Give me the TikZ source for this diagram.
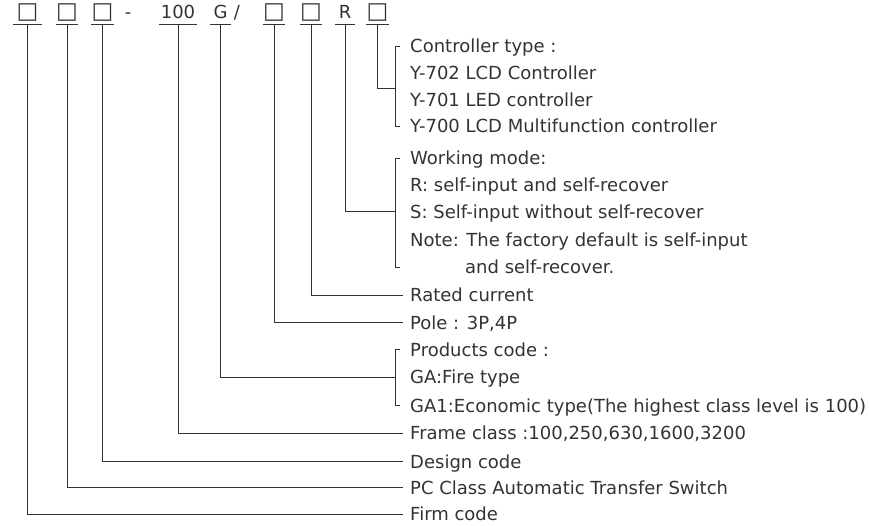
\documentclass[tikz,border=0pt]{standalone}
\usepackage{fontspec}
\setmainfont{DejaVu Sans}

\newcommand{\sqbox}{{\fontsize{23}{23}\selectfont □}}

\tikzset{
    code/.style={anchor=base, inner xsep=0pt, inner ysep=5.7pt, minimum width=20pt,
        text height=13.3pt, text depth=0pt},
    lbl/.style={anchor=west, inner sep=0pt, text height=13.1pt, text depth=0pt},
    lead/.style={draw=black!80, line width=0.9pt},
}

\begin{document}
\begin{tikzpicture}[x=1pt, y=-1pt, font=\fontsize{18}{22}\selectfont, text=black!80]

        \useasboundingbox (0, 0) rectangle (869, 526);

        % the type code
        \draw
            (27.5, 18.3)  node [code, minimum width=29pt] (c1) {\sqbox}
            (67, 18.3)    node [code] (c2) {\sqbox}
            (102.5, 18.3) node [code] (c3) {\sqbox}
            (128, 18.3)   node [code] (minus) {-}
            (178, 18.3)   node [code, minimum width=37pt] (c4) {100}
            (220.5, 18.3) node [code] (c5) {G}
            (237, 18.3)   node [code] (slash) {/}
            (274, 18.3)   node [code] (c6) {\sqbox}
            (311, 18.3)   node [code] (c7) {\sqbox}
            (345, 18.3)   node [code] (c8) {R}
            (377.5, 18.3) node [code] (c9) {\sqbox}
        ;
        \foreach \c in {c1, c2, c3, c4, c5, c6, c7, c8, c9}
            \draw [lead] (\c.south west) -- (\c.south east);

        % the meanings
        \draw
            (410, 46)    node [lbl] (ctype) {Controller type :}
            (410, 72.5)  node [lbl] (y702)  {Y-702 LCD Controller}
            (410, 99.5)  node [lbl] (y701)  {Y-701 LED controller}
            (410, 126)   node [lbl] (y700)  {Y-700 LCD Multifunction controller}
            (410, 158)   node [lbl] (wmode) {Working mode:}
            (410, 185)   node [lbl] (rmode) {R: self-input and self-recover}
            (410, 212)   node [lbl] (smode) {S: Self-input without self-recover}
            (410, 240)   node [lbl] (note)  {Note: The factory default is self-input}
            (465, 267)   node [lbl] (note2) {and self-recover.}
            (410, 295)   node [lbl] (rated) {Rated current}
            (410, 322.5) node [lbl] (pole)  {Pole : 3P,4P}
            (410, 349.5) node [lbl] (pcode) {Products code :}
            (410, 377)   node [lbl] (fire)  {GA:Fire type}
            (410, 405.5) node [lbl] (econ)  {GA1:Economic type(The highest class level is 100)}
            (410, 433)   node [lbl] (frame) {Frame class :100,250,630,1600,3200}
            (410, 461.5) node [lbl] (design) {Design code}
            (410, 487.5) node [lbl] (pcats) {PC Class Automatic Transfer Switch}
            (410, 514)   node [lbl] (firm)  {Firm code}
        ;

        % brackets
        \coordinate (wbot)   at ([xshift=-11pt]note.west |- note2.west);
        \coordinate (ctrlbr) at (395, 88);
        \coordinate (modebr) at (395, 211);
        \coordinate (prodbr) at ([xshift=-15pt]fire.west);
        \draw [lead] ([xshift=-10pt]ctype.west) -- ++(-5, 0) |- ([xshift=-10pt]y700.west);
        \draw [lead] ([xshift=-10pt]wmode.west) -- ++(-5, 0) |- ([xshift=1pt]wbot);
        \draw [lead] ([xshift=-10pt]pcode.west) -- ++(-5, 0) |- ([xshift=-10pt]econ.west);

        % leaders
        \draw [lead] (c9.south) |- (ctrlbr);
        \draw [lead] (c8.south) |- (modebr);
        \draw [lead] (c5.south) |- (prodbr);
        \foreach \a/\b in {c7/rated, c6/pole, c4/frame, c3/design, c2/pcats, c1/firm}
            \draw [lead] (\a.south) |- ([xshift=-7pt]\b.west);

    \end{tikzpicture}
\end{document}
